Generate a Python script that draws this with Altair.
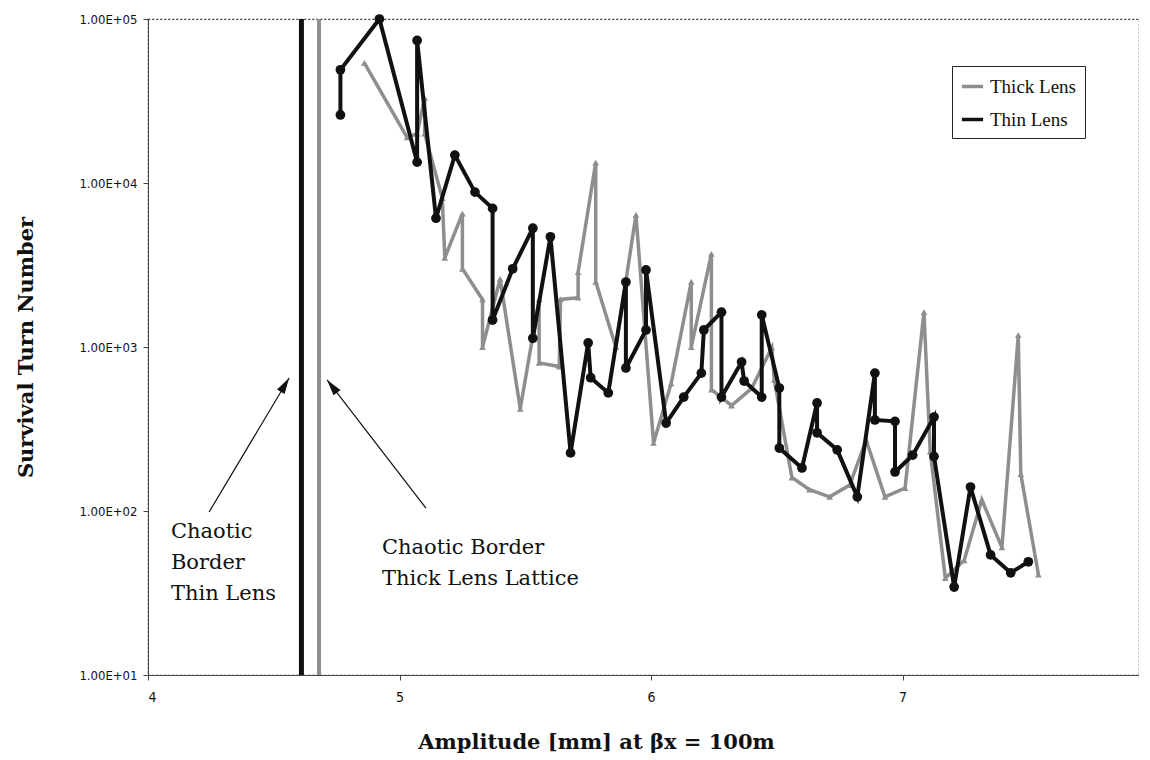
import altair as alt
import pandas as pd

# Thin lens series (x = amplitude mm, y = survival turns)
thin_x = [4.765, 4.765, 4.92, 5.07, 5.07, 5.145, 5.22, 5.30, 5.37, 5.37, 5.45, 5.53, 5.53,
          5.60, 5.68, 5.75, 5.76, 5.83, 5.90, 5.90, 5.98, 5.98, 6.06, 6.13, 6.20, 6.21,
          6.28, 6.28, 6.36, 6.37, 6.44, 6.44, 6.51, 6.51, 6.60, 6.66, 6.66, 6.74, 6.82,
          6.89, 6.89, 6.97, 6.97, 7.04, 7.125, 7.125, 7.205, 7.27, 7.35, 7.43, 7.50]
thin_y = [26000, 49000, 100000, 13400, 74000, 6100, 14800, 8800, 7000, 1460, 3000, 5300, 1130,
          4700, 226, 1060, 650, 525, 2490, 745, 1270, 2950, 344, 495, 693, 1270,
          1630, 495, 810, 620, 495, 1570, 562, 242, 183, 456, 300, 236, 122,
          693, 359, 352, 173, 219, 374, 215, 34.4, 140, 54, 42, 49]

# Thick lens series
thick_x = [4.86, 5.03, 5.07, 5.10, 5.10, 5.17, 5.18, 5.25, 5.25, 5.33, 5.33, 5.40, 5.48,
           5.555, 5.555, 5.635, 5.64, 5.71, 5.71, 5.78, 5.78, 5.86, 5.94, 6.01, 6.08,
           6.16, 6.16, 6.24, 6.24, 6.32, 6.40, 6.48, 6.49, 6.56, 6.63, 6.71, 6.79, 6.855,
           6.93, 7.01, 7.085, 7.11, 7.17, 7.245, 7.315, 7.395, 7.46, 7.47, 7.54]
thick_y = [54000, 19000, 20000, 33000, 20000, 8100, 3500, 6500, 3000, 1950, 1000, 2600, 420,
           1950, 800, 760, 1950, 2000, 2860, 13300, 2500, 1000, 6400, 260, 600,
           2500, 1000, 3700, 550, 440, 560, 990, 630, 160, 135, 122, 144, 271,
           122, 138, 1630, 230, 39, 50, 117, 60, 1180, 168, 41]

series_names = ["Thick Lens", "Thin Lens"]
series_colors = ["#8e8e8e", "#111111"]

# Chaotic borders
border_x = [4.61, 4.68]
border_names = ["Thin Lens", "Thick Lens"]
border_lo = [10, 10]
border_hi = [100000, 100000]

# Annotation arrows (start -> tip)
arrow_x = [4.243, 5.105]
arrow_y = [98.6, 104]
arrow_x2 = [4.561, 4.712]
arrow_y2 = [647, 630]
arrow_angle = [31, 322]

# Annotation texts
note_x = [4.091, 4.93]
note_y = [74.5, 59.4]
note_text = [["Chaotic", "Border", "Thin Lens"], ["Chaotic Border", "Thick Lens Lattice"]]

x_ticks = [4, 5, 6, 7]
y_ticks = [10, 100, 1000, 10000, 100000]

SERIF = "DejaVu Serif"
NARROW = "'Liberation Sans Narrow', 'DejaVu Sans Condensed', 'Liberation Sans', sans-serif"

df = pd.DataFrame({
    "x": thick_x + thin_x,
    "y": thick_y + thin_y,
    "series": ["Thick Lens"] * len(thick_x) + ["Thin Lens"] * len(thin_x),
    "order": list(range(len(thick_x))) + list(range(len(thin_x))),
})

xscale = alt.Scale(domain=[4, 7.94], nice=False, zero=False)
yscale = alt.Scale(type="log", domain=[10, 100000], nice=False)

X = alt.X("x:Q", scale=xscale,
          axis=alt.Axis(values=x_ticks, format="d", title="Amplitude [mm] at βx = 100m", grid=False,
                        labelFont=NARROW, labelFontSize=14, labelPadding=10,
                        tickSize=5, domainColor="#444", tickColor="#444",
                        titleFont=SERIF, titleFontSize=21, titleFontWeight="bold",
                        titlePadding=27, titleX=448, titleAnchor="start", titleAlign="center",
                        labelColor="#111", titleColor="#111"))
Y = alt.Y("y:Q", scale=yscale,
          axis=alt.Axis(values=y_ticks, grid=False, title="Survival Turn Number",
                        labelExpr="'1.00E+0' + round(log(datum.value)/LN10)",
                        labelFont=NARROW, labelFontSize=13, labelPadding=6,
                        tickSize=5, domainColor="#444", tickColor="#444",
                        titleFont=SERIF, titleFontSize=21, titleFontWeight="bold",
                        titlePadding=42, labelColor="#111", titleColor="#111"))

color = alt.Color("series:N",
                  scale=alt.Scale(domain=series_names, range=series_colors),
                  legend=alt.Legend(title=None, orient="none", legendX=804, legendY=47,
                                    labelFont="Liberation Serif", labelFontSize=19, labelColor="#111",
                                    strokeColor="#222", fillColor="white", padding=8,
                                    symbolType="stroke", symbolSize=450, symbolStrokeWidth=3.5,
                                    rowPadding=10, labelOffset=5))

base = alt.Chart(df)

thick_line = base.transform_filter(alt.datum.series == "Thick Lens").mark_line(
    strokeWidth=3.5, point=alt.OverlayMarkDef(shape="triangle-up", size=45, filled=True, color="#8e8e8e")
).encode(x=X, y=Y, color=color, order="order:Q")

thin_line = base.transform_filter(alt.datum.series == "Thin Lens").mark_line(
    strokeWidth=4, point=alt.OverlayMarkDef(shape="circle", size=95, filled=True, color="#111111")
).encode(x=X, y=Y, color=color, order="order:Q")

bdf = pd.DataFrame({"x": border_x, "lo": border_lo, "hi": border_hi, "name": border_names})
border_thin = alt.Chart(bdf).transform_filter(alt.datum.name == "Thin Lens").mark_rule(
    strokeWidth=5, color="#111").encode(x=alt.X("x:Q", scale=xscale), y=alt.Y("lo:Q", scale=yscale), y2="hi:Q")
border_thick = alt.Chart(bdf).transform_filter(alt.datum.name == "Thick Lens").mark_rule(
    strokeWidth=4, color="#8e8e8e").encode(x=alt.X("x:Q", scale=xscale), y=alt.Y("lo:Q", scale=yscale), y2="hi:Q")

adf = pd.DataFrame({"x": arrow_x, "y": arrow_y, "x2": arrow_x2, "y2": arrow_y2, "angle": arrow_angle})
arrows = alt.Chart(adf).mark_rule(strokeWidth=1.2, color="#111").encode(
    x=alt.X("x:Q", scale=xscale), y=alt.Y("y:Q", scale=yscale), x2="x2:Q", y2="y2:Q")
heads = alt.Chart(adf).mark_point(
    shape="M0,0L-0.55,2L0.55,2Z", size=260, filled=True, color="#111", opacity=1
).encode(x=alt.X("x2:Q", scale=xscale), y=alt.Y("y2:Q", scale=yscale),
         angle=alt.Angle("angle:Q", scale=None))

ndf = pd.DataFrame({"x": note_x, "y": note_y, "t": note_text})
notes = alt.Chart(ndf).mark_text(
    align="left", baseline="middle", font=SERIF, fontSize=21, lineHeight=31, color="#111"
).encode(x=alt.X("x:Q", scale=xscale), y=alt.Y("y:Q", scale=yscale), text="t")

chart = alt.layer(
    border_thick, border_thin, thick_line, thin_line, arrows, heads, notes
).resolve_scale(x="shared", y="shared").properties(
    width=991, height=656,
    padding={"left": 140, "top": 11, "right": 0, "bottom": 80},
    autosize=alt.AutoSizeParams(type="none"),
    background="white",
).configure_view(
    stroke="#333", strokeDash=[2, 2], strokeWidth=1.2
)

chart.save("out.html", embed_options={"renderer": "svg", "actions": False})
